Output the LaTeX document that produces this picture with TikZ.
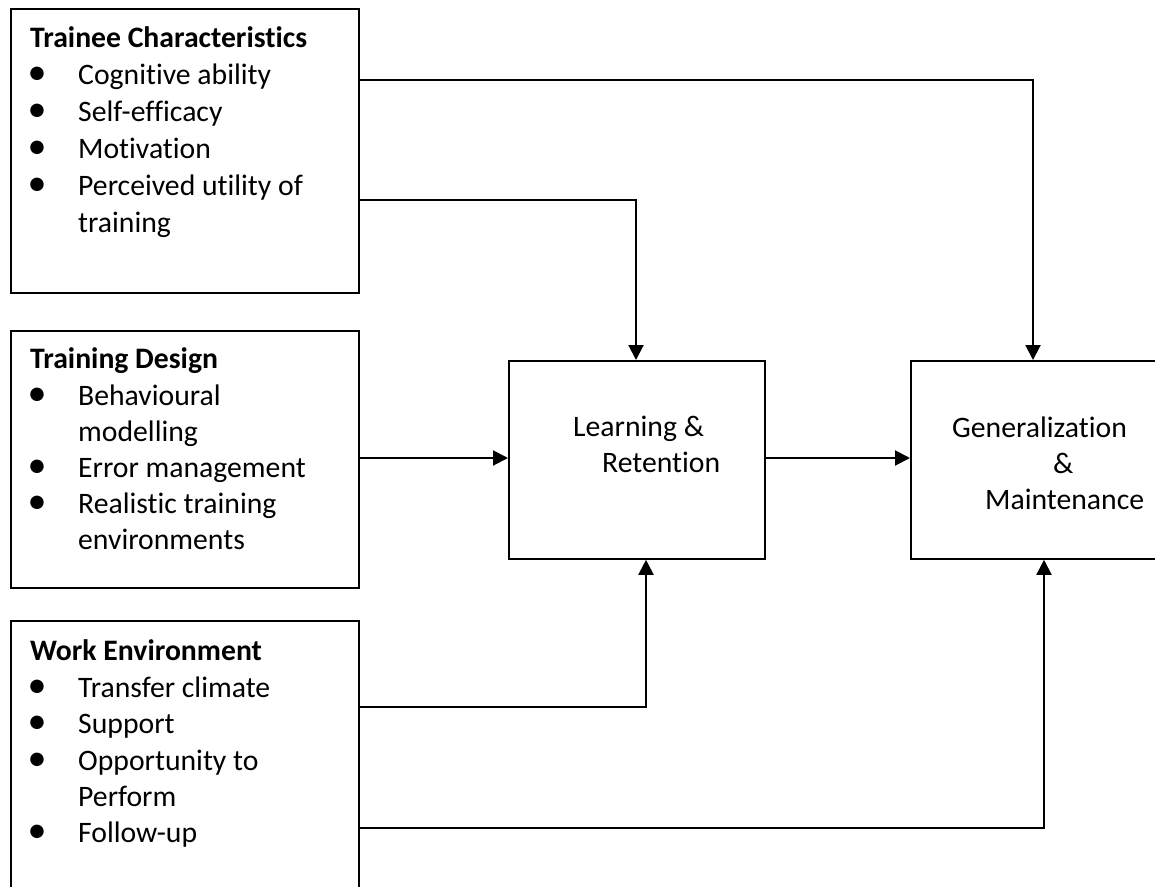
\documentclass[tikz,border=0pt]{standalone}
\usepackage{fontspec}
\setmainfont{Carlito}[Ligatures=NoCommon]
\usetikzlibrary{arrows.meta}

\tikzset{
  box/.style={draw, line width=1.8pt, rectangle, anchor=north west, inner sep=0pt},
  item/.style={anchor=base west, inner sep=0pt, font=\fontsize{29.7}{35}\selectfont},
  head/.style={item, font=\fontsize{29.7}{35}\selectfont\bfseries},
  bul/.style={anchor=base, inner sep=0pt, font=\fontsize{38}{40}\selectfont},
  link/.style={line width=2pt, -{Triangle[length=15pt,width=15pt]}},
}

\begin{document}
\begin{tikzpicture}[x=1pt, y=-1pt]
\useasboundingbox (0,0) rectangle (1155,886);
\clip (0,0) rectangle (1155,886);

% outer boxes
\node[box, minimum width=348pt, minimum height=284pt] (tc) at (10,8) {};
\node[box, minimum width=348pt, minimum height=257pt] (td) at (10,330) {};
\node[box, minimum width=348pt, minimum height=290pt] (we) at (10,620) {};
\node[box, minimum width=256pt, minimum height=198pt] (lr) at (508,360) {};
\node[box, minimum width=260pt, minimum height=198pt] (gm) at (910,360) {};

% Trainee Characteristics
\node[head] (tch) at (30,47) {Trainee Characteristics};
\foreach \y [count=\i] in {84,121,158,195}
  \node[bul] (tcb\i) at (37,\y) {•};
\foreach \t/\y [count=\i] in {Cognitive ability/84, Self-efficacy/121, Motivation/158, Perceived utility of/195, training/232}
  \node[item] (tct\i) at (78,\y) {\t};

% Training Design
\node[head] (tdh) at (30,368) {Training Design};
\foreach \y [count=\i] in {405,477,513}
  \node[bul] (tdb\i) at (37,\y) {•};
\foreach \t/\y [count=\i] in {Behavioural/405, modelling/441, Error management/477, Realistic training/513, environments/549}
  \node[item] (tdt\i) at (78,\y) {\t};

% Work Environment
\node[head] (weh) at (30,660) {Work Environment};
\foreach \y [count=\i] in {697,733,770,842}
  \node[bul] (web\i) at (37,\y) {•};
\foreach \t/\y [count=\i] in {Transfer climate/697, Support/733, Opportunity to/770, Perform/806, Follow-up/842}
  \node[item] (wet\i) at (78,\y) {\t};

% outcome labels
\node[item] (lr1) at (573,436) {Learning \&};
\node[item] (lr2) at (602,472) {Retention};
\node[item] (gm1) at (952,437) {Generalization};
\node[item] (gm2) at (1053,473) {\&};
\node[item] (gm3) at (985,509) {Maintenance};

% connectors
\draw[link] (tc.east |- 0,80) -| (gm.north -| 1033,0);
\draw[link] (tc.east |- 0,200) -| (lr.north -| 636,0);
\draw[link] (td.east |- 0,458) -- (lr.west |- 0,458);
\draw[link] (lr.east |- 0,458) -- (gm.west |- 0,458);
\draw[link] (we.east |- 0,707) -| (lr.south -| 646,0);
\draw[link] (we.east |- 0,828) -| (gm.south -| 1044,0);
\end{tikzpicture}
\end{document}
